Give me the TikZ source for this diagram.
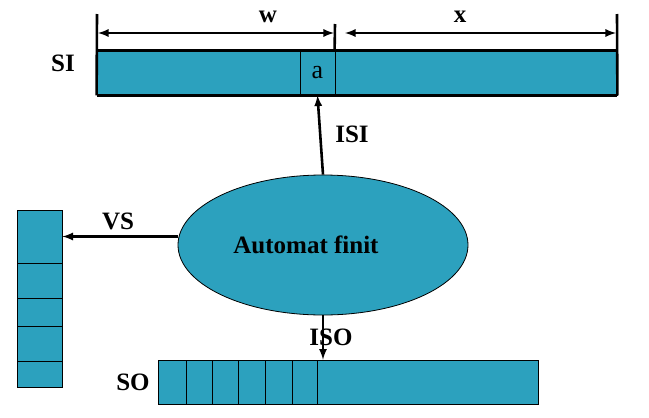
\documentclass[tikz,border=0pt]{standalone}
\usepackage{fontspec}
\setmainfont{Liberation Serif}
\usetikzlibrary{shapes.geometric}
\definecolor{tapeblue}{RGB}{44,161,190}
\tikzset{
  cell/.style={draw, fill=tapeblue, line width=0.8pt, inner sep=0pt},
  lbl/.style={font=\bfseries\fontsize{25}{28}\selectfont},
  rule/.style={line width=2.6pt},
  arr/.style={-latex, line width=2.6pt},
  dim/.style={latex-latex, line width=2.6pt},
}

\begin{document}
\begin{tikzpicture}[x=1pt,y=-1pt]
\useasboundingbox (0,0) rectangle (649,418);
% input tape
\node[cell, minimum width=203pt, minimum height=44pt] (wcell) at (198.5,73) {};
\node[cell, minimum width=35pt, minimum height=44pt] (acell) at (317.5,73) {\raisebox{-3pt}{\fontsize{26}{28}\selectfont a}};
\node[cell, minimum width=282pt, minimum height=44pt] (xcell) at (476,73) {};
\draw[rule] (wcell.north west) -- (xcell.north east);
\draw[rule] (wcell.south west) -- (xcell.south east);
\coordinate (tl) at (97,14);
\coordinate (tm) at (335,24);
\coordinate (tr) at (617,14);
\draw[rule] (wcell.south west) -- (tl);
\draw[rule] (xcell.south east) -- (tr);
\draw[rule] (xcell.north west) -- (tm);
\coordinate (wl) at (98,33);
\coordinate (wr) at (334,33);
\coordinate (xl) at (345,33);
\coordinate (xr) at (616,33);
\draw[dim] (wl) -- (wr);
\draw[dim] (xl) -- (xr);
\node[lbl] (wlbl) at (268,17) {w};
\node[lbl] (xlbl) at (460,17) {x};
\node[lbl] (si) at (63,63) {SI};
% finite automaton
\node[ellipse, draw, fill=tapeblue, line width=0.8pt, minimum width=290pt, minimum height=140pt, lbl] (auto) at (323,245) {Automat finit\hspace*{34pt}};
\draw[arr] (auto.north) -- (acell.south);
\node[lbl] (isi) at (352,134) {ISI};
% stack
\node[cell, minimum width=45pt, minimum height=53pt] (s1) at (39.5,236.5) {};
\node[cell, minimum width=45pt, minimum height=35pt] (s2) at (39.5,280.5) {};
\node[cell, minimum width=45pt, minimum height=28pt] (s3) at (39.5,312) {};
\node[cell, minimum width=45pt, minimum height=35pt] (s4) at (39.5,343.5) {};
\node[cell, minimum width=45pt, minimum height=26pt] (s5) at (39.5,374) {};
\coordinate (vs) at (178,236.5);
\draw[arr] (vs) -- (s1.east);
\node[lbl] (vslbl) at (118,221) {VS};
% output tape
\node[cell, minimum width=28pt, minimum height=44pt] (o1) at (172,382) {};
\node[cell, minimum width=26pt, minimum height=44pt] (o2) at (199,382) {};
\node[cell, minimum width=26pt, minimum height=44pt] (o3) at (225,382) {};
\node[cell, minimum width=27pt, minimum height=44pt] (o4) at (251.5,382) {};
\node[cell, minimum width=27pt, minimum height=44pt] (o5) at (278.5,382) {};
\node[cell, minimum width=25pt, minimum height=44pt] (o6) at (304.5,382) {};
\node[cell, minimum width=221pt, minimum height=44pt] (o7) at (427.5,382) {};
\node[lbl] (so) at (133,382) {SO};
\draw[arr] (auto.south) -- (auto.south |- o7.north);
\node[lbl] (iso) at (331,337) {ISO};
\end{tikzpicture}
\end{document}
